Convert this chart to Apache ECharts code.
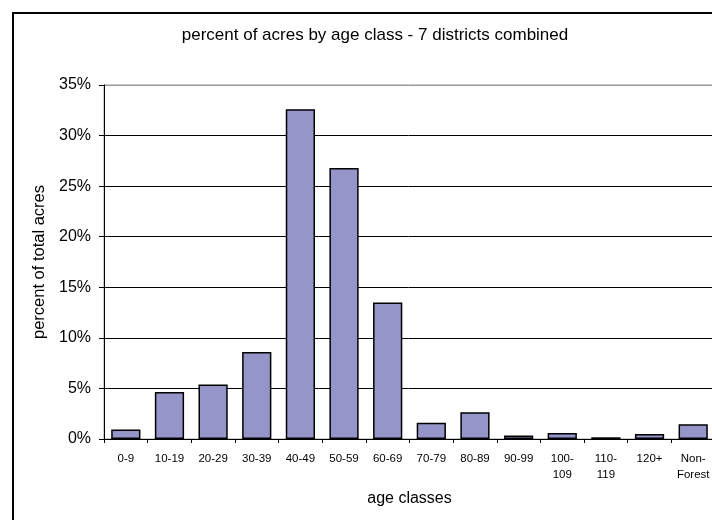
<!DOCTYPE html>
<html>
<head>
<meta charset="utf-8">
<script src="https://cdn.jsdelivr.net/npm/echarts@6/dist/echarts.min.js"></script>
<style>
html,body{margin:0;padding:0;background:#fff;}
#chart{width:712px;height:520px;}
</style>
</head>
<body>
<div id="chart"></div>
<script>
const categories = ['0-9','10-19','20-29','30-39','40-49','50-59','60-69','70-79','80-89','90-99','100-\n109','110-\n119','120+','Non-\nForest'];
const percentValues = [0.95, 4.65, 5.4, 8.6, 32.6, 26.8, 13.5, 1.6, 2.65, 0.35, 0.6, 0.17, 0.5, 1.45];
const yTicks = [0, 5, 10, 15, 20, 25, 30, 35];

const chart = echarts.init(document.getElementById('chart'), null, {renderer: 'canvas'});
const font = 'Liberation Sans, Arial, sans-serif';
chart.setOption({
  animation: false,
  backgroundColor: '#fff',
  title: {
    text: 'percent of acres by age class - 7 districts combined',
    left: 370, top: 22, textAlign: 'center',
    textStyle: {fontFamily: font, fontSize: 17, fontWeight: 'normal', color: '#000'}
  },
  graphic: [{
    type: 'rect', shape: {x: 13, y: 13, width: 720, height: 540},
    style: {fill: 'none', stroke: '#000', lineWidth: 2}, silent: true
  }],
  grid: {left: 104, top: 85, right: -3, bottom: 81, outerBoundsMode: 'none', containLabel: false,
    show: true, borderColor: '#999', borderWidth: 1, backgroundColor: 'transparent'},
  xAxis: {
    type: 'category', data: categories,
    name: 'age classes', nameLocation: 'middle', nameGap: 52,
    nameTextStyle: {fontFamily: font, fontSize: 16, color: '#000'},
    axisLine: {lineStyle: {color: '#000', width: 1}},
    axisTick: {show: true, length: 4, inside: false, lineStyle: {color: '#000'}},
    axisLabel: {fontFamily: font, fontSize: 11.5, color: '#000', margin: 12, lineHeight: 16, interval: 0, hideOverlap: false},
    splitLine: {show: false}
  },
  yAxis: {
    type: 'value', min: 0, max: 35, interval: 5,
    name: 'percent of total acres', nameLocation: 'middle', nameGap: 56,
    nameTextStyle: {fontFamily: font, fontSize: 16.5, color: '#000'},
    axisLine: {show: true, lineStyle: {color: '#000', width: 1}},
    axisTick: {show: true, length: 5, lineStyle: {color: '#000'}},
    axisLabel: {fontFamily: font, fontSize: 16, color: '#000', margin: 13,
      formatter: v => yTicks.includes(v) ? v + '%' : ''},
    splitLine: {show: true, lineStyle: {color: ['#000','#000','#000','#000','#000','#000','#000','#999'], width: 1}}
  },
  series: [{
    type: 'bar', data: percentValues, barWidth: '67%',
    itemStyle: {color: '#9595c9', borderColor: '#000', borderWidth: 1.5}
  }]
});
</script>
</body>
</html>
